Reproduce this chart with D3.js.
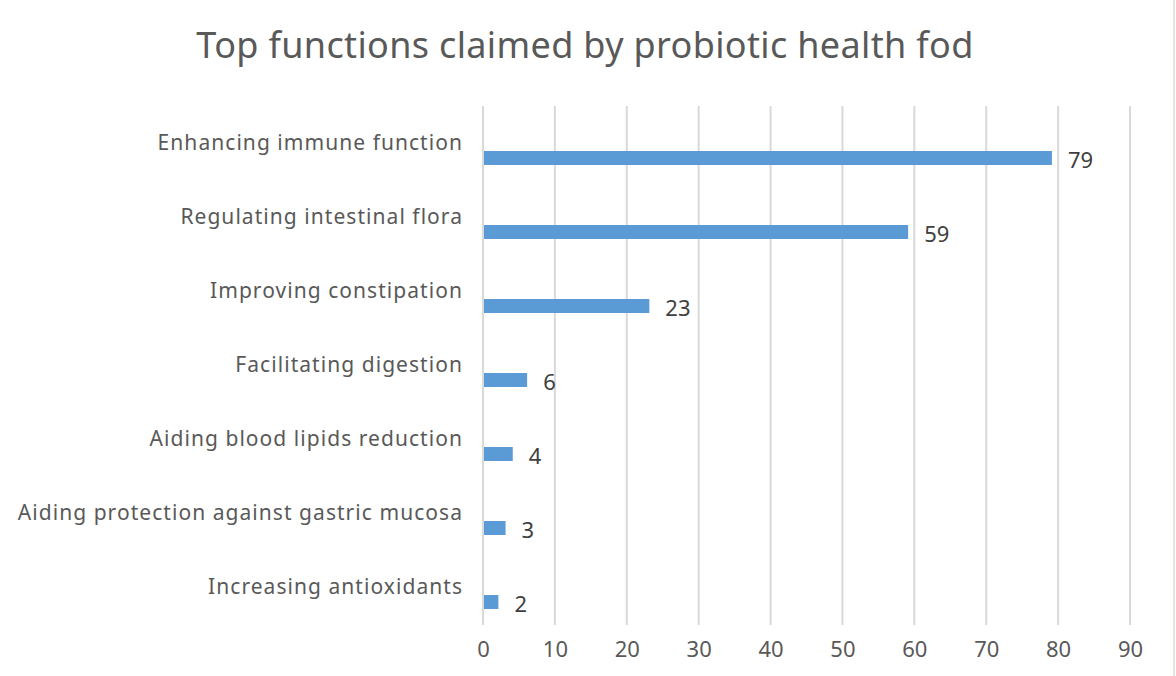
<!DOCTYPE html>
<html>
<head>
<meta charset="utf-8">
<script src="https://cdn.jsdelivr.net/npm/d3@7"></script>
<style>
  html, body { margin: 0; padding: 0; background: #fff; }
  #chart { width: 1176px; height: 676px; }
  text { font-family: "Noto Sans", "Open Sans", sans-serif; }
</style>
</head>
<body>
<div id="chart"></div>
<script>
// Functions claimed by probiotic health food, top to bottom.
const categories = [
  "Enhancing immune function",
  "Regulating intestinal flora",
  "Improving constipation",
  "Facilitating digestion",
  "Aiding blood lipids reduction",
  "Aiding protection against gastric mucosa",
  "Increasing antioxidants"
];
const counts = [79, 59, 23, 6, 4, 3, 2];
const xTicks = [0, 10, 20, 30, 40, 50, 60, 70, 80, 90];
const title = "Top functions claimed by probiotic health fod";

const width = 1176, height = 676;
const m = { top: 106, right: 46, bottom: 52, left: 483 };
const iW = width - m.left - m.right, iH = height - m.top - m.bottom;

const x = d3.scaleLinear([0, 90], [0, iW]);
const y = d3.scaleBand(categories, [0, iH]);
const barH = 14;
const barOffset = 15; // bars sit below the band centre, labels at the centre
const numFont = '"Noto Sans CJK SC", "Noto Sans", sans-serif';

const svg = d3.select("#chart").append("svg")
  .attr("width", width).attr("height", height);

// thin light border on the right edge
svg.append("line").attr("x1", width - 2).attr("x2", width - 2).attr("y1", 0).attr("y2", height)
  .attr("stroke", "#dfe8df").attr("stroke-width", 2);

svg.append("text").attr("x", 585).attr("y", 58).attr("text-anchor", "middle")
  .attr("fill", "#595959").attr("font-size", 36).attr("letter-spacing", 0.35).text(title);

const g = svg.append("g").attr("transform", `translate(${m.left},${m.top})`);

// vertical gridlines (0 line doubles as the axis)
g.selectAll(".grid").data(xTicks).join("line").attr("class", "grid")
  .attr("x1", (d) => x(d)).attr("x2", (d) => x(d)).attr("y1", 0).attr("y2", iH + 1)
  .attr("stroke", "#d9d9d9").attr("stroke-width", 2);

// tick labels
g.append("g").attr("transform", `translate(0,${iH})`)
  .call(d3.axisBottom(x).tickValues(xTicks).tickSize(0).tickPadding(17))
  .call((a) => a.select(".domain").remove())
  .call((a) => a.selectAll("text").attr("fill", "#595959").attr("font-size", 22)
    .attr("font-family", numFont));

// category labels at band centres
g.selectAll(".cat").data(categories).join("text").attr("class", "cat")
  .attr("x", -20).attr("y", (d) => y(d) + y.bandwidth() / 2).attr("dy", "0.35em")
  .attr("text-anchor", "end").attr("fill", "#595959").attr("font-size", 21)
  .attr("letter-spacing", 1.05).text((d) => d);

// bars
g.selectAll(".bar").data(categories).join("rect").attr("class", "bar")
  .attr("x", x(0) + 1).attr("y", (d) => y(d) + y.bandwidth() / 2 + barOffset - barH / 2)
  .attr("width", (d, i) => x(counts[i]) - x(0)).attr("height", barH)
  .attr("fill", "#5b9bd5");

// value labels
g.selectAll(".val").data(categories).join("text").attr("class", "val")
  .attr("x", (d, i) => x(counts[i]) + 17).attr("y", (d) => y(d) + y.bandwidth() / 2 + barOffset + 2)
  .attr("dy", "0.35em").attr("fill", "#404040").attr("font-size", 22)
  .attr("font-family", numFont).text((d, i) => counts[i]);
</script>
</body>
</html>
